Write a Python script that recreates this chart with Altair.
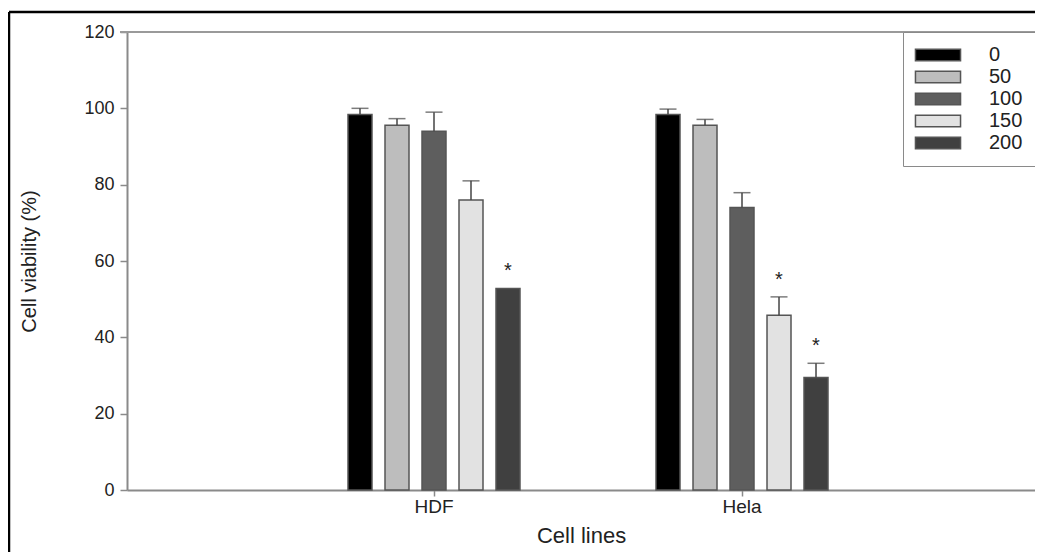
import altair as alt
import pandas as pd

# ---- data ----
cell_lines = ["HDF", "Hela"]
concentrations = ["0", "50", "100", "150", "200"]
hdf_mean = [98.4, 95.6, 94.0, 76.0, 52.8]
hdf_err = [1.6, 1.7, 5.0, 5.0, 0.0]
hdf_sig = [False, False, False, False, True]
hela_mean = [98.4, 95.6, 74.0, 45.8, 29.5]
hela_err = [1.4, 1.5, 3.9, 4.8, 3.7]
hela_sig = [False, False, False, True, True]
y_ticks = [0, 20, 40, 60, 80, 100, 120]
bar_colors = ["#000000", "#bdbdbd", "#5e5e5e", "#e2e2e2", "#404040"]

rows = []
for line, means, errs, sigs in [("HDF", hdf_mean, hdf_err, hdf_sig),
                                ("Hela", hela_mean, hela_err, hela_sig)]:
    for c, m, e, s in zip(concentrations, means, errs, sigs):
        rows.append({"line": line, "conc": c, "mean": m, "err": e,
                     "upper": m + e, "sig": s})
df = pd.DataFrame(rows)

FONT = "Liberation Sans"
YTITLE = "Cell viability (%)"

yscale = alt.Scale(domain=[0, 120], nice=False)

base = alt.Chart(df).encode(
    x=alt.X("line:N", title="Cell lines",
            scale=alt.Scale(domain=cell_lines, paddingInner=0,
                            paddingOuter=0.474, align=0.524),
            axis=alt.Axis(labelAngle=0, labelFontSize=19, labelFont=FONT,
                          labelColor="#222", domainColor="#8a8a8a",
                          domainWidth=2, tickColor="#8a8a8a", tickWidth=1.5,
                          tickSize=6, labelPadding=1, titleFontSize=22,
                          titleFont=FONT, titleFontWeight="normal",
                          titleColor="#222", titlePadding=9)),
    xOffset=alt.XOffset("conc:N",
                        scale=alt.Scale(domain=concentrations,
                                        range=[68, 240],
                                        paddingInner=0.3514,
                                        paddingOuter=0)),
)

bars = base.mark_bar(stroke="#555555", strokeWidth=1.5).encode(
    y=alt.Y("mean:Q", title=YTITLE, scale=yscale,
            axis=alt.Axis(values=y_ticks, grid=False, labelFontSize=18,
                          labelFont=FONT, labelColor="#222",
                          domainColor="#8a8a8a", domainWidth=2,
                          tickColor="#8a8a8a", tickWidth=1.5, tickSize=7,
                          labelPadding=6, titleFontSize=20, titleFont=FONT,
                          titleFontWeight="normal", titleColor="#222",
                          titlePadding=44)),
    color=alt.Color("conc:N",
                    scale=alt.Scale(domain=concentrations, range=bar_colors),
                    legend=alt.Legend(title=None, orient="none", legendX=776,
                                      legendY=0, direction="vertical",
                                      symbolType="M-4,-1H4V1H-4Z",
                                      symbolSize=127, symbolOffset=12,
                                      symbolStrokeColor="#555555",
                                      symbolStrokeWidth=1.5,
                                      labelFontSize=20, labelFont=FONT,
                                      labelColor="#222", labelOffset=41,
                                      rowPadding=2, padding=13,
                                      strokeColor="#8a8a8a",
                                      fillColor="white")),
)

err_line = base.transform_filter("datum.err > 0").mark_rule(
    color="#444444", strokeWidth=1.5).encode(
    y=alt.Y("mean:Q", title=YTITLE, scale=yscale), y2="upper:Q")

err_cap = base.transform_filter("datum.err > 0").mark_tick(
    color="#444444", thickness=1.5, size=17).encode(
    y=alt.Y("upper:Q", title=YTITLE, scale=yscale))

stars = base.transform_filter("datum.sig").mark_text(
    text="*", fontSize=20, font=FONT, dy=-11, baseline="alphabetic",
    color="#222").encode(y=alt.Y("upper:Q", title=YTITLE, scale=yscale))

one = pd.DataFrame({"k": [0]})
top_frame = alt.Chart(one).mark_rule(color="#9a9a9a", strokeWidth=2).encode(
    y=alt.value(0), x=alt.value(-7), x2=alt.value(908))
border_left = alt.Chart(one).mark_rule(color="black", strokeWidth=2.5).encode(
    x=alt.value(-118), y=alt.value(-20), y2=alt.value(600))
border_top = alt.Chart(one).mark_rule(color="black", strokeWidth=2.5).encode(
    y=alt.value(-20), x=alt.value(-118), x2=alt.value(950))

chart = alt.layer(border_left, border_top, top_frame, bars, err_line,
                  err_cap, stars).properties(
    width=908, height=458,
    padding={"left": 119, "top": 24, "right": 0, "bottom": 62},
    autosize=alt.AutoSizeParams(type="none"),
    background="white",
).configure_view(stroke=None)

chart.save("out.html", embed_options={"renderer": "svg", "actions": False})
